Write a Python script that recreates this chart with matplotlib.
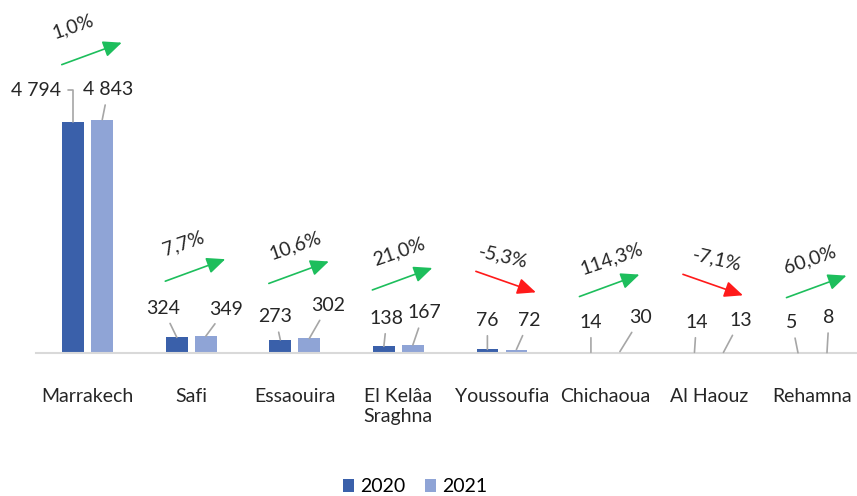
import numpy as np
import matplotlib
matplotlib.use("Agg")
from matplotlib import pyplot as plt
from matplotlib.transforms import offset_copy

# data
provinces = ["Marrakech", "Safi", "Essaouira", "El Kelâa\nSraghna", "Youssoufia",
             "Chichaoua", "Al Haouz", "Rehamna"]
val_2020 = [4794, 324, 273, 138, 76, 14, 14, 5]
val_2021 = [4843, 349, 302, 167, 72, 30, 13, 8]

# label placement tweaks (pixels, relative to bar top)
off_2020 = [(-37, 32), (-14, 29), (-5, 23), (3, 28), (0, 29), (0, 30), (2, 30), (-6, 30)]
off_2021 = [(6, 30), (20, 27), (19, 33), (11, 32), (13, 29), (21, 34), (17, 32), (2, 35)]
pct_dx = [-15, -8, 0, 1, 1, 6, 8, -3]

c2020 = "#3A60AA"
c2021 = "#8FA4D6"
green = "#1DBE5C"
red = "#FF1A1A"
grey_line = "#A6A6A6"

plt.rcParams['font.family'] = ['Lato', 'DejaVu Sans']

fig = plt.figure(figsize=(8.57, 4.96), dpi=100)
ax = fig.add_axes([36 / 857, (496 - 353) / 496, 1 - 36 / 857, 353 / 496])

x = np.arange(len(provinces))
w = 0.21
off = 0.14
ax.bar(x - off, val_2020, w, color=c2020, label="2020", zorder=2)
ax.bar(x + off, val_2021, w, color=c2021, label="2021", zorder=2)

ax.set_xlim(-0.5, 7.43)
ax.set_ylim(0, 353 / 231 * 4794)

for s in ["top", "right", "left"]:
    ax.spines[s].set_visible(False)
ax.spines["bottom"].set_color("#D9D9D9")
ax.spines["bottom"].set_linewidth(1.5)
ax.set_yticks([])
ax.set_xticks(x)
ax.set_xticklabels(provinces, fontsize=14, color="#262626", linespacing=1.2)
ax.tick_params(axis="x", length=0, pad=25)

def fmt(v):
    return "{:,}".format(v).replace(",", " ")

# value labels with leader lines
for i in range(len(provinces)):
    for xpos, v, (dx, dy), side in [(x[i] - off, val_2020[i], off_2020[i], 0),
                                     (x[i] + off, val_2021[i], off_2021[i], 1)]:
        cs = "arc3"
        if i == 0 and side == 0:
            cs = "angle,angleA=0,angleB=90,rad=0"
        ax.annotate(fmt(v), xy=(xpos, v), xytext=(dx, dy), textcoords="offset pixels",
                    ha="center", va="center", fontsize=14, color="#262626",
                    arrowprops=dict(arrowstyle="-", color=grey_line, lw=1.2,
                                    shrinkA=3, shrinkB=0, connectionstyle=cs))

# growth arrows and percentages
for i in range(len(provinces)):
    g = (val_2021[i] - val_2020[i]) / val_2020[i] * 100
    top = max(val_2020[i], val_2021[i])
    up = g >= 0
    col = green if up else red
    if up:
        y0, y1, rot = 55, 77, 19
    else:
        y0, y1, rot = 78, 57, -13
    tr_end = offset_copy(ax.transData, fig=fig, x=34, y=y1, units="dots")
    ax.annotate("", xy=(x[i], top), xycoords=tr_end,
                xytext=(-60, y0 - y1), textcoords="offset pixels",
                arrowprops=dict(arrowstyle="-|>,head_length=0.75,head_width=0.33",
                                color=col, lw=1.2, mutation_scale=15,
                                shrinkA=0, shrinkB=0))
    txt = "{:.1f}%".format(g).replace(".", ",")
    ax.annotate(txt, xy=(x[i], top), xytext=(pct_dx[i], 93), textcoords="offset pixels",
                ha="center", va="center", fontsize=14, color="#262626", rotation=rot)

fig.legend(loc="center", bbox_to_anchor=(415 / 857, (496 - 487) / 496), ncol=2,
           frameon=False, fontsize=14, handlelength=0.6, handleheight=0.6,
           handletextpad=0.3, columnspacing=1.0)

fig.savefig("out.png", dpi=100)
